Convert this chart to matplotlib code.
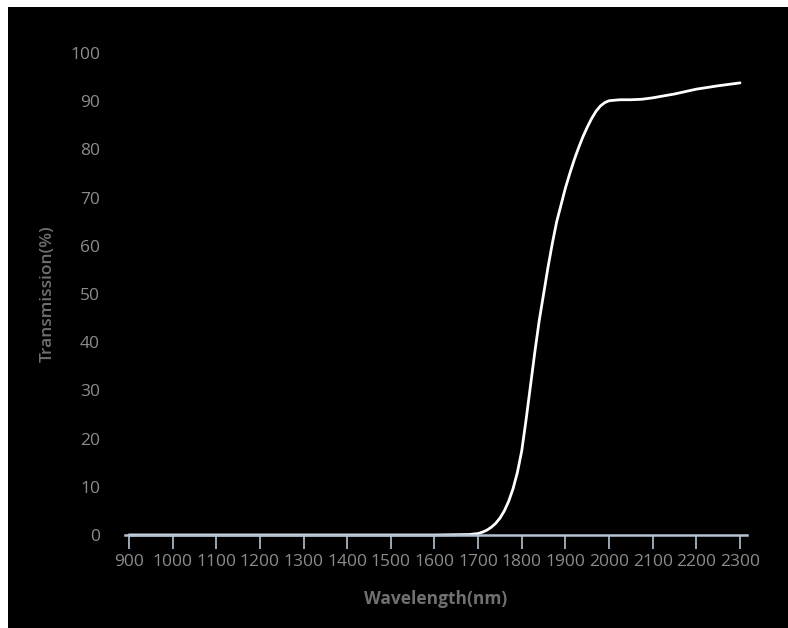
import matplotlib
matplotlib.use('Agg')
import matplotlib.pyplot as plt
from matplotlib.patches import Rectangle

# transmission curve
wavelength = [900, 1000, 1100, 1200, 1300, 1400, 1500, 1600, 1680, 1700, 1710,
              1720, 1730, 1740, 1750, 1760, 1770, 1780, 1790, 1800, 1810,
              1820, 1830, 1840, 1850, 1860, 1870, 1880, 1890, 1900, 1910,
              1920, 1930, 1940, 1950, 1960, 1970, 1980, 1990, 2000, 2025,
              2050, 2075, 2100, 2150, 2200, 2250, 2300]
transmission = [0, 0, 0, 0, 0, 0, 0, 0, 0.1, 0.3, 0.6,
                1.0, 1.6, 2.4, 3.5, 5.0, 7.0, 9.6, 13.0, 17.5, 24.0,
                31.0, 38.0, 44.5, 50.0, 55.5, 60.5, 65.0, 68.5, 72.0, 75.0,
                77.8, 80.3, 82.6, 84.6, 86.4, 87.9, 89.0, 89.7, 90.1, 90.3,
                90.3, 90.4, 90.7, 91.5, 92.5, 93.2, 93.8]
xticks = list(range(900, 2301, 100))
yticks = list(range(0, 101, 10))

plt.rcParams['font.family'] = ['Open Sans', 'Noto Sans', 'DejaVu Sans']

fig = plt.figure(figsize=(7.88, 6.28), dpi=100, facecolor='white')
# black panel, white strip on left and top
fig.patches.append(Rectangle((8/788, 0), 1, 621/628, transform=fig.transFigure,
                             facecolor='black', edgecolor='none', zorder=-10))

ax = fig.add_axes([125/788, 93/628, 622/788, 482/628])
ax.set_facecolor('none')

ax.plot(wavelength, transmission, color='white', lw=2.0, clip_on=False,
        solid_capstyle='round', solid_joinstyle='round')

ax.set_xlim(891, 2316)
ax.set_ylim(0, 100)
ax.set_xticks(xticks)
ax.set_yticks(yticks)

for s in ['top', 'right', 'left']:
    ax.spines[s].set_visible(False)
ax.spines['bottom'].set_color('#b4c3d3')
ax.spines['bottom'].set_linewidth(1.8)

ax.tick_params(axis='x', colors='#b4c3d3', length=10, width=1.2, pad=4,
               labelcolor='#8c8c8c', labelsize=12.5)
ax.tick_params(axis='y', length=0, pad=18, labelcolor='#8c8c8c', labelsize=12.5)

ax.set_xlabel('Wavelength(nm)', color='#707070', fontsize=12.5,
              fontweight='bold', labelpad=14)
ax.set_ylabel('Transmission(%)', color='#707070', fontsize=12.5,
              fontweight='semibold', labelpad=10)

fig.savefig('out.png', dpi=100, facecolor='white')
